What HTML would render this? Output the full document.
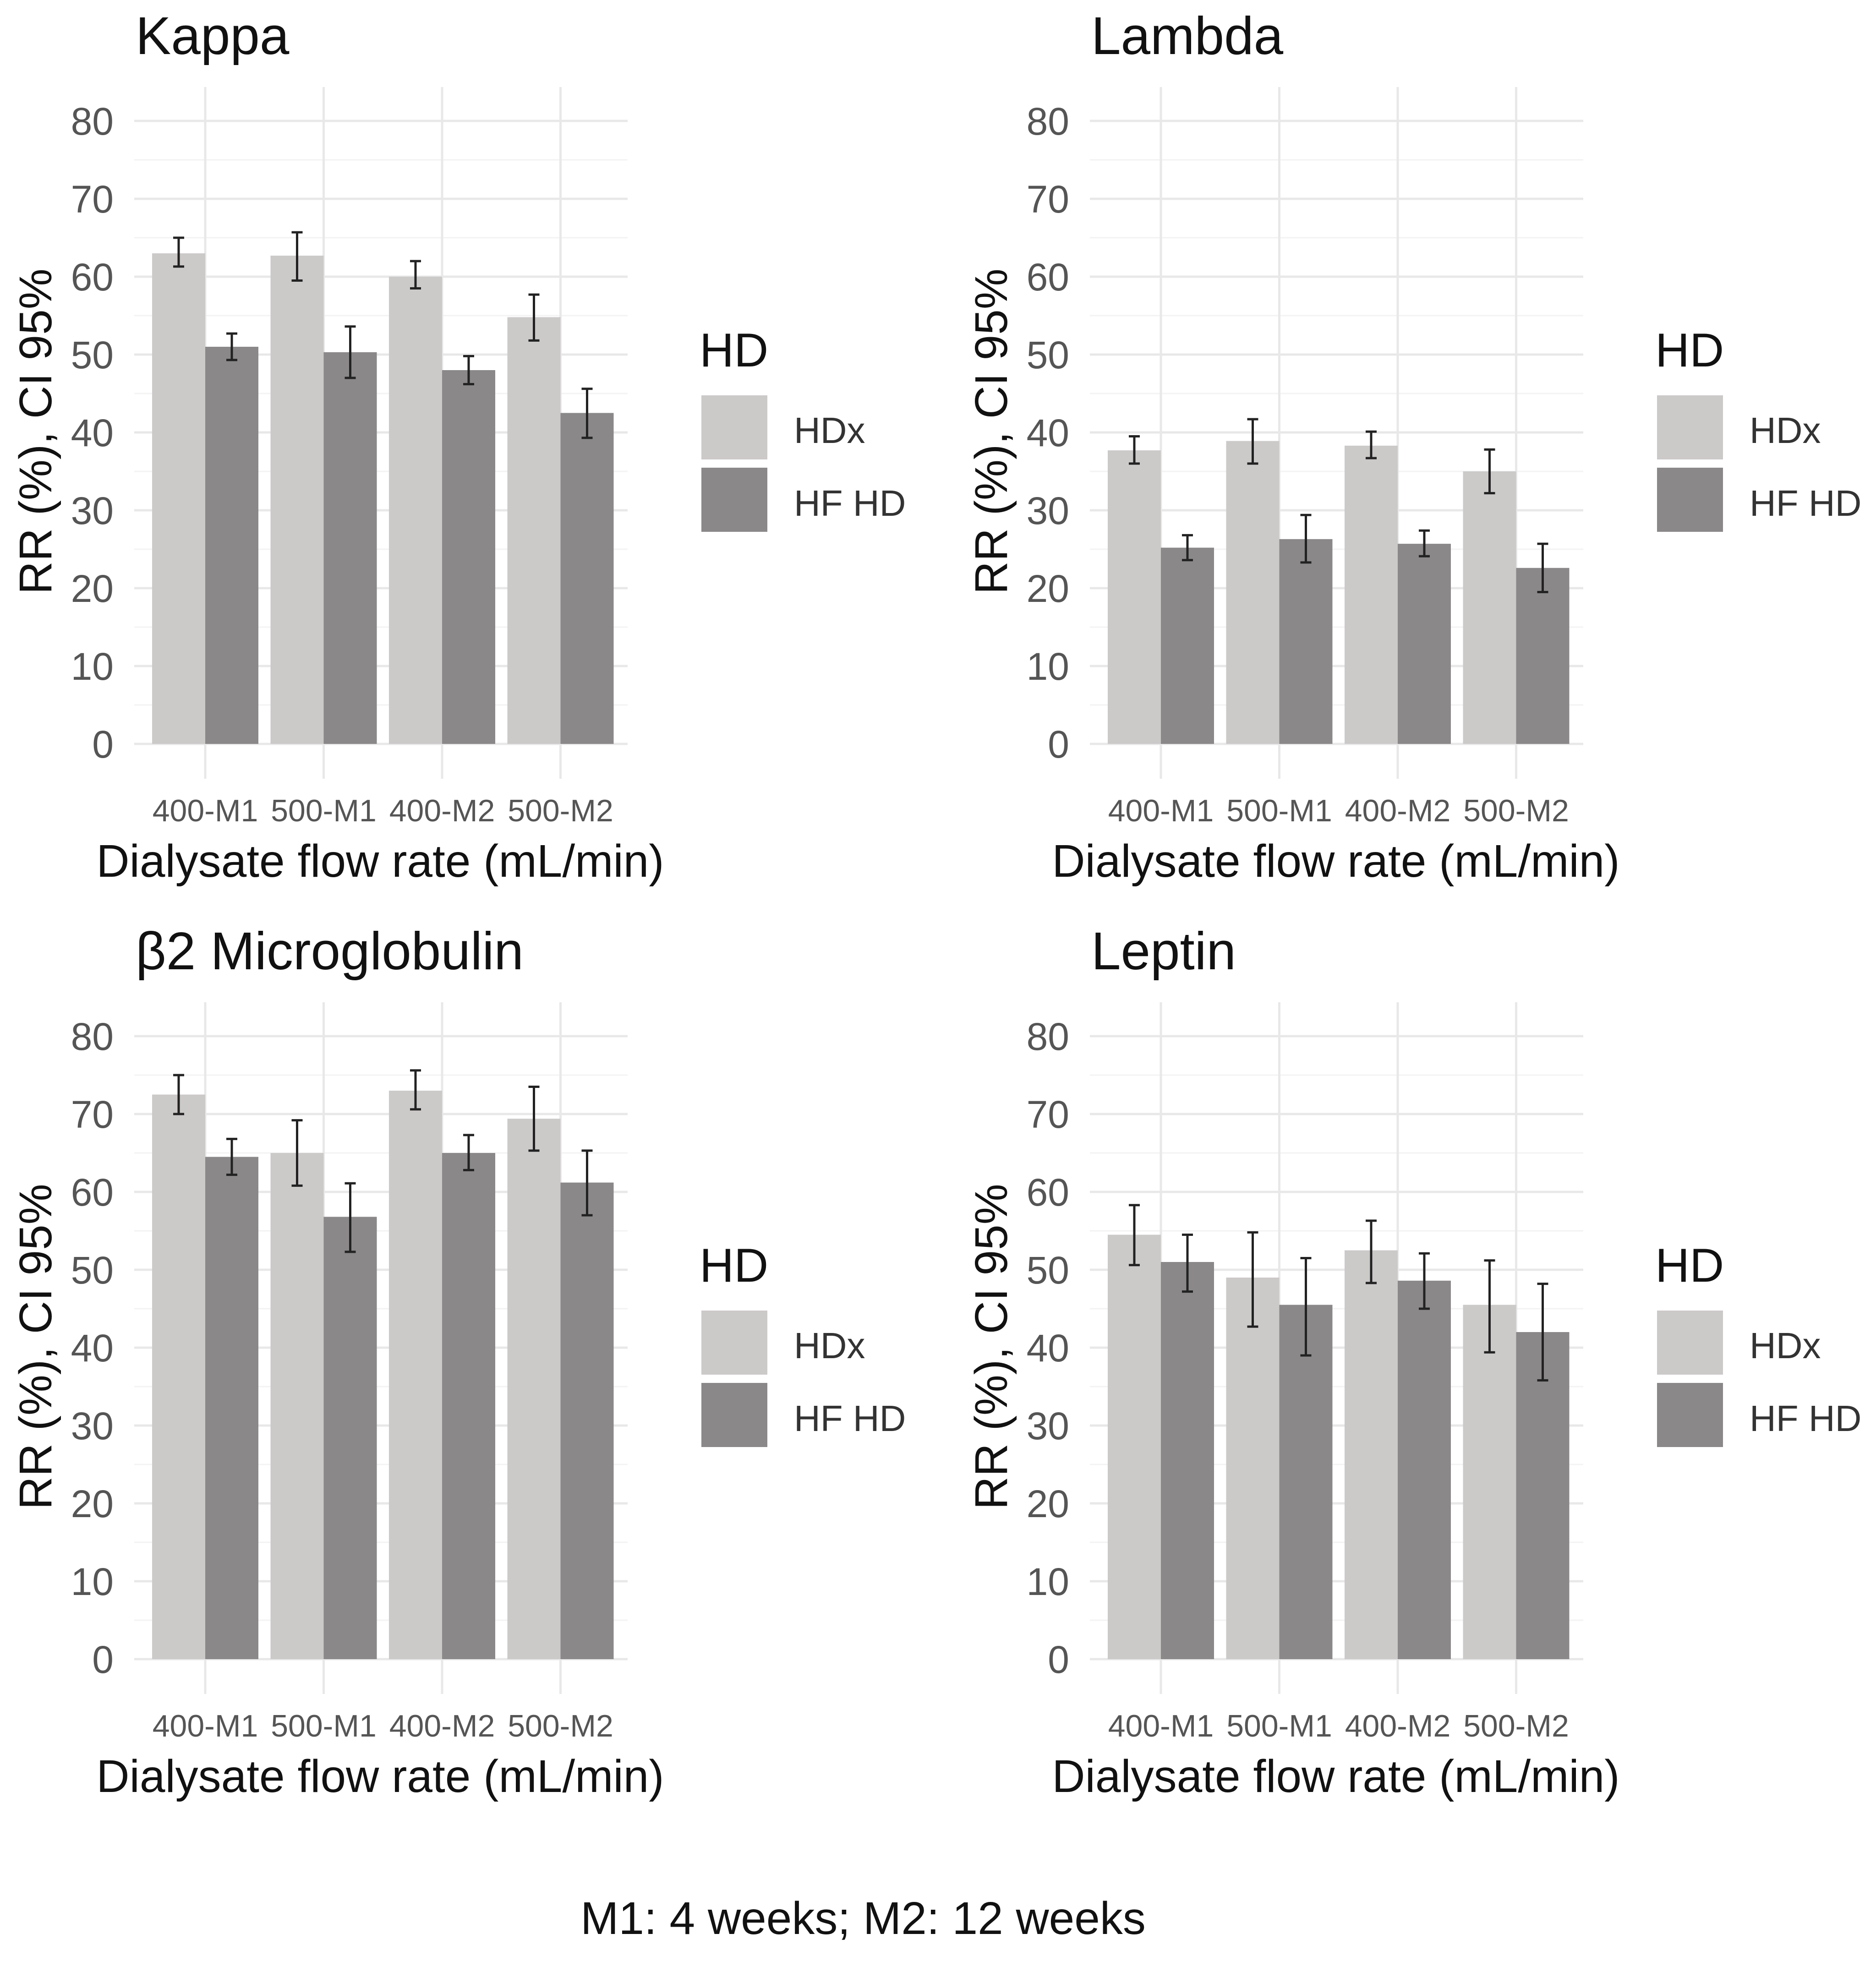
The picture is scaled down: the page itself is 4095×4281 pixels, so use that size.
<!DOCTYPE html>
<html><head><meta charset="utf-8">
<style>
html,body{margin:0;padding:0;background:#fff;}
svg{display:block;font-family:"Liberation Sans",Arial,sans-serif;}
</style></head>
<body>
<svg id="fig" width="4095" height="4281" viewBox="0 0 4095 4281" xmlns="http://www.w3.org/2000/svg">
<rect width="4095" height="4281" fill="#fff"/>
<text x="1884" y="4222" font-size="100" text-anchor="middle" fill="#111">M1: 4 weeks; M2: 12 weeks</text>
</svg>
<script>
const categories = ["400-M1","500-M1","400-M2","500-M2"];
const yTicks = [0,10,20,30,40,50,60,70,80];
const panelTitles = ["Kappa","Lambda","β2 Microglobulin","Leptin"];
const hdxValues = [[63,62.7,60,54.8],[37.7,38.9,38.3,35],[72.5,65,73,69.4],[54.5,49,52.5,45.5]];
const hdxLow = [[61.3,59.5,58.5,51.8],[36,36,36.7,32.2],[70,60.8,70.6,65.3],[50.6,42.7,48.3,39.4]];
const hdxHigh = [[65,65.7,62,57.7],[39.5,41.7,40.1,37.8],[75,69.2,75.6,73.5],[58.3,54.8,56.3,51.2]];
const hfValues = [[51,50.3,48,42.5],[25.2,26.3,25.7,22.6],[64.5,56.8,65,61.2],[51,45.5,48.6,42]];
const hfLow = [[49.3,47,46.2,39.3],[23.6,23.3,24.1,19.5],[62.2,52.3,62.8,57],[47.2,39,45,35.8]];
const hfHigh = [[52.7,53.6,49.8,45.6],[26.8,29.4,27.4,25.7],[66.8,61.1,67.3,65.3],[54.5,51.5,52.1,48.2]];

const NS="http://www.w3.org/2000/svg";
const svg=document.getElementById('fig');
function mk(tag,attrs,parent){const e=document.createElementNS(NS,tag);for(const k in attrs)e.setAttribute(k,attrs[k]);(parent||svg).appendChild(e);return e;}
const offsets=[[0,0],[2086,0],[0,1998],[2086,1998]];
const Y0=1624, PER=17.0;
const X0=448, STEP=258.5, BW=116;
for(let p=0;p<4;p++){
  const [dx,dy]=offsets[p];
  const g=mk('g',{transform:`translate(${dx},${dy})`});
  
  
  const ys=v=>Y0-v*PER;
  const xs=i=>X0+i*STEP;
  for(let v=5;v<=80;v+=10){const l=mk('line',{x1:293,x2:1370,y1:ys(v),y2:ys(v),stroke:'#f3f3f3','stroke-width':3},g);
    }
  yTicks.forEach(v=>{const l=mk('line',{x1:293,x2:1370,y1:ys(v),y2:ys(v),stroke:'#e8e8e8','stroke-width':5},g);
    
    const t=mk('text',{x:248,y:ys(v)+30,'font-size':84,'text-anchor':'end',fill:'#555'},g);t.textContent=v;
    });
  categories.forEach((c,i)=>{const l=mk('line',{x1:xs(i),x2:xs(i),y1:190,y2:1700,stroke:'#e8e8e8','stroke-width':5},g);
    
    const t=mk('text',{x:xs(i),y:1793,'font-size':68,'text-anchor':'middle',fill:'#555'},g);t.textContent=c;
    });
  categories.forEach((c,i)=>{
    const series=[[hdxValues,hdxLow,hdxHigh,'#ccc9c9',-1,'hdx'],[hfValues,hfLow,hfHigh,'#8a8889',0,'hfhd']];
    series.forEach(([val,lo,hi,col,off,nm])=>{
      const v=val[p][i];const bx=xs(i)+off*BW;
      const r=mk('rect',{x:bx,y:ys(v),width:BW,height:ys(0)-ys(v),fill:col},g);
      
      const cx=bx+BW/2,y1=ys(lo[p][i]),y2=ys(hi[p][i]);
      const e=mk('path',{d:`M${cx},${y1}V${y2}M${cx-12},${y1}H${cx+12}M${cx-12},${y2}H${cx+12}`,stroke:'#222','stroke-width':5,fill:'none'},g);
      
    });
  });
  const tt=mk('text',{x:296,y:118,'font-size':116,fill:'#111'},g);tt.textContent=panelTitles[p];
  
  const xt=mk('text',{x:830,y:1914,'font-size':100,'text-anchor':'middle',fill:'#111'},g);xt.textContent='Dialysate flow rate (mL/min)';
  
  const yt=mk('text',{x:0,y:0,'font-size':100,'text-anchor':'middle',fill:'#111',transform:'translate(112,942) rotate(-90)'},g);yt.textContent='RR (%), CI 95%';
  
  const lt=mk('text',{x:1527,y:800,'font-size':104,fill:'#111'},g);lt.textContent='HD';
  
  const k1=mk('rect',{x:1531,y:863,width:144,height:140,fill:'#ccc9c9'},g);
  
  const k2=mk('rect',{x:1531,y:1021,width:144,height:140,fill:'#8a8889'},g);
  
  const l1=mk('text',{x:1733,y:967,'font-size':80,fill:'#333'},g);l1.textContent='HDx';
  
  const l2=mk('text',{x:1733,y:1126,'font-size':80,fill:'#333'},g);l2.textContent='HF HD';
  
}
</script>
</body></html>
